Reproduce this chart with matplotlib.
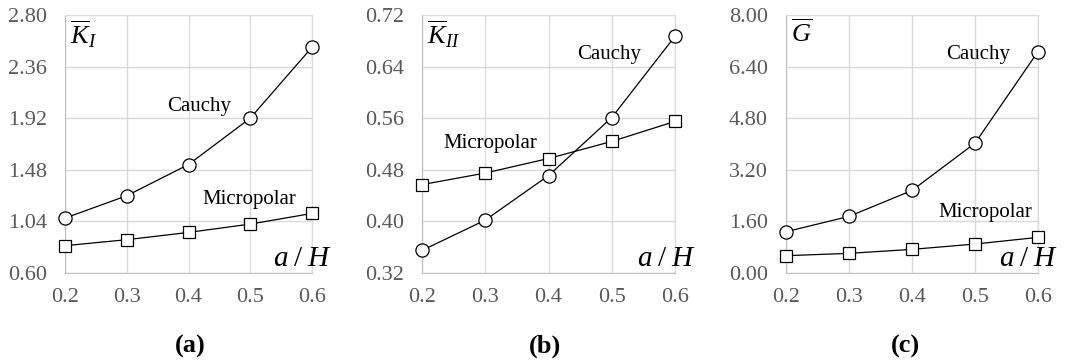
import matplotlib
matplotlib.use("Agg")
import matplotlib.pyplot as plt

# crack length ratio a/H
ratio = [0.2, 0.3, 0.4, 0.5, 0.6]

# normalised mode I stress intensity factor
k1_cauchy = [1.068, 1.259, 1.525, 1.920, 2.525]
k1_micro = [0.833, 0.884, 0.946, 1.017, 1.108]

# normalised mode II stress intensity factor
k2_cauchy = [0.355, 0.402, 0.471, 0.561, 0.687]
k2_micro = [0.457, 0.475, 0.4975, 0.524, 0.555]

# normalised energy release rate
g_cauchy = [1.28, 1.755, 2.56, 4.026, 6.865]
g_micro = [0.537, 0.609, 0.733, 0.898, 1.105]

plt.rcParams['font.family'] = ['Liberation Serif', 'DejaVu Serif']
plt.rcParams['mathtext.fontset'] = 'custom'
plt.rcParams['mathtext.rm'] = 'Liberation Serif'
plt.rcParams['mathtext.it'] = 'Liberation Serif:italic'

W, H = 1068, 362
fig = plt.figure(figsize=(W / 100, H / 100), dpi=100)

panels = [
    # left px, width px, data, ylabel, y ticks, text positions, tag
    (65, 247, k1_cauchy, k1_micro, r'$\overline{K}_{I}$',
     [0.60, 1.04, 1.48, 1.92, 2.36, 2.80], (0.417, 2.024), (0.498, 1.231), '(a)', 190),
    (422, 253, k2_cauchy, k2_micro, r'$\overline{K}_{II}$',
     [0.32, 0.40, 0.48, 0.56, 0.64, 0.72], (0.496, 0.658), (0.3075, 0.52), '(b)', 545),
    (786, 252, g_cauchy, g_micro, r'$\overline{G}$',
     [0.00, 1.60, 3.20, 4.80, 6.40, 8.00], (0.505, 6.76), (0.516, 1.89), '(c)', 905),
]

top_px, bot_px = 15, 273
for left, width, cauchy, micro, ylab, yticks, cpos, mpos, tag, tagx in panels:
    ax = fig.add_axes([left / W, (H - bot_px) / H, width / W, (bot_px - top_px) / H])
    ax.plot(ratio, cauchy, color='black', lw=0.9, marker='o', ms=9.5,
            mfc='white', mec='black', mew=0.9, clip_on=False, zorder=3)
    ax.plot(ratio, micro, color='black', lw=0.9, marker='s', ms=8,
            mfc='white', mec='black', mew=0.9, clip_on=False, zorder=3)
    ax.set_xlim(0.2, 0.6)
    ax.set_ylim(yticks[0], yticks[-1])
    ax.set_xticks(ratio)
    ax.set_xticklabels([f'{v:.1f}' for v in ratio])
    ax.set_yticks(yticks)
    ax.set_yticklabels([f'{v:.2f}' for v in yticks])
    ax.tick_params(length=0, labelsize=16, labelcolor='#595959')
    ax.tick_params(axis='y', pad=13)
    ax.tick_params(axis='x', pad=11)
    ax.grid(True, color='#d9d9d9', lw=1.0)
    for s in ax.spines.values():
        s.set_color('#d9d9d9')
    ax.spines['left'].set_color('#bfbfbf')
    ax.spines['bottom'].set_color('#bfbfbf')
    ax.set_axisbelow(True)

    ax.text(cpos[0], cpos[1], 'Cauchy', fontsize=15, ha='center', va='center')
    ax.text(mpos[0], mpos[1], 'Micropolar', fontsize=15, ha='center', va='center')
    ax.text(0.02, 0.985, ylab, transform=ax.transAxes, fontsize=19,
            ha='left', va='top')
    ax.text(1.08, 0.055, r'$a\;/\;H$', transform=ax.transAxes, fontsize=21,
            ha='right', va='center')
    fig.text(tagx / W, 1 - 346 / H, tag, fontsize=19, fontweight='bold',
             ha='center', va='center')

fig.savefig('out.png', dpi=100)
